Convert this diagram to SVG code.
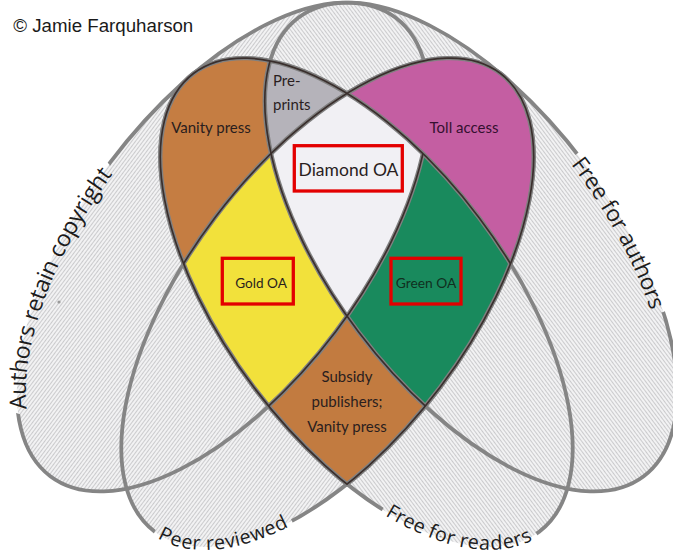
<svg xmlns="http://www.w3.org/2000/svg" xmlns:xlink="http://www.w3.org/1999/xlink" width="673" height="558" viewBox="0 0 673 558">
<style>
  .rim { fill: none; stroke: #858585; stroke-width: 3.8; }
  .halo { fill: none; stroke: #808080; stroke-width: 4.4; }
  .edge { fill: none; stroke: #3a2f2d; stroke-width: 1.7; }
  .rl { font-family: Lato, "Open Sans", sans-serif; font-size: 15px; fill: #2a1e1e; text-anchor: middle; }
  .set-label { font-family: "Open Sans", Lato, sans-serif; fill: #1c1c1c; dominant-baseline: central; text-anchor: middle; }
  .hl { fill: none; stroke: #e30000; stroke-width: 3.3; }
</style>
<defs>
  <!-- the four sets -->
  <ellipse id="eA" cx="223" cy="247" rx="287" ry="141" transform="rotate(-53 223 247)"/>
  <ellipse id="eF" cx="471" cy="247" rx="287" ry="141" transform="rotate(53 471 247)"/>
  <ellipse id="eP" cx="327.5" cy="302.5" rx="287" ry="141" transform="rotate(-53 327.5 302.5)"/>
  <ellipse id="eR" cx="366.5" cy="302.5" rx="287" ry="141" transform="rotate(53 366.5 302.5)"/>

  <!-- arcs carrying the set names -->
  <path id="pA" d="M20.8 428.3 A287 141 -53 0 1 129 138.7"/>
  <path id="pF" d="M562 138.7 A287 141 53 0 1 666.1 332.2"/>
  <path id="pP" d="M144.3 517.1 A287 141 -53 0 0 304.2 509"/>
  <path id="pR" d="M373.4 498.5 A287 141 53 0 0 544.6 522.2"/>

  <pattern id="hatch" patternUnits="userSpaceOnUse" width="6" height="3">
    <rect width="6" height="3" fill="#f2f2f3"/>
    <rect y="2" width="6" height="1" fill="#cbcbcd"/>
  </pattern>

  <clipPath id="cA"><use href="#eA"/></clipPath>
  <clipPath id="cF"><use href="#eF"/></clipPath>
  <clipPath id="cP"><use href="#eP"/></clipPath>
  <clipPath id="cR"><use href="#eR"/></clipPath>
  <!-- border selections -->
  <clipPath id="cRb"><use href="#eP"/><rect width="347" height="558"/></clipPath>
  <clipPath id="cPb"><use href="#eR"/><rect x="347" width="326" height="558"/></clipPath>
  <clipPath id="cPtop"><use href="#eP"/><rect width="673" height="200"/></clipPath>

  <mask id="mNotA" maskUnits="userSpaceOnUse" x="0" y="0" width="673" height="558"><rect width="673" height="558" fill="#fff"/><use href="#eA" fill="#000"/></mask>
  <mask id="mNotF" maskUnits="userSpaceOnUse" x="0" y="0" width="673" height="558"><rect width="673" height="558" fill="#fff"/><use href="#eF" fill="#000"/></mask>
  <mask id="mNotP" maskUnits="userSpaceOnUse" x="0" y="0" width="673" height="558"><rect width="673" height="558" fill="#fff"/><use href="#eP" fill="#000"/></mask>
  <mask id="mNotR" maskUnits="userSpaceOnUse" x="0" y="0" width="673" height="558"><rect width="673" height="558" fill="#fff"/><use href="#eR" fill="#000"/></mask>

  <!-- breaks in the outlines where the set names sit -->
  <mask id="gaps" maskUnits="userSpaceOnUse" x="0" y="0" width="673" height="558">
    <rect width="673" height="558" fill="#fff"/>
    <use href="#set-labels" stroke="#000" stroke-width="14" stroke-linejoin="round"/>
  </mask>
</defs>

<rect width="673" height="558" fill="#fff"/>

<text x="13.3" y="31.7" font-family="'Liberation Sans', Arial, sans-serif" font-size="18.7" fill="#1a1a1a">© Jamie Farquharson</text>

<!-- hatched ground of the union -->
<g id="ground" fill="url(#hatch)">
  <use href="#eA"/><use href="#eF"/><use href="#eP"/><use href="#eR"/>
</g>
<circle cx="59" cy="302" r="1.6" fill="#9a9a9a"/>

<!-- set outlines -->
<g id="outlines" class="rim" mask="url(#gaps)">
  <use href="#eA"/><use href="#eF"/><use href="#eP"/><use href="#eR"/>
</g>

<!-- coloured regions -->
<g id="vanity-press">
  <g clip-path="url(#cR)"><g mask="url(#mNotP)"><rect width="673" height="330" fill="#c57d42" mask="url(#mNotF)"/></g></g>
  <text class="rl" x="211" y="133">Vanity press</text>
</g>
<g id="pre-prints">
  <g clip-path="url(#cR)"><g clip-path="url(#cF)"><rect width="673" height="250" fill="#b5b3ba" mask="url(#mNotP)"/></g></g>
  <text class="rl" x="273" y="86" style="text-anchor:start">Pre-</text>
  <text class="rl" x="273" y="110" style="text-anchor:start">prints</text>
</g>
<g id="toll-access">
  <g clip-path="url(#cP)"><rect x="300" width="373" height="300" fill="#c45ea2" mask="url(#mNotR)"/></g>
  <text class="rl" x="464" y="133" style="fill:#351030">Toll access</text>
</g>
<g id="diamond-oa">
  <g clip-path="url(#cP)"><g clip-path="url(#cR)"><g clip-path="url(#cA)"><rect width="673" height="558" fill="#f1f0f4" clip-path="url(#cF)"/></g></g></g>
</g>
<g id="gold-oa">
  <g clip-path="url(#cP)"><g clip-path="url(#cR)"><g clip-path="url(#cA)"><rect width="673" height="558" fill="#f2e13b" mask="url(#mNotF)"/></g></g></g>
</g>
<g id="green-oa">
  <g clip-path="url(#cP)"><g clip-path="url(#cR)"><g clip-path="url(#cF)"><rect width="673" height="558" fill="#198a5d" mask="url(#mNotA)"/></g></g></g>
</g>
<g id="subsidy">
  <g clip-path="url(#cP)"><g clip-path="url(#cR)"><g mask="url(#mNotA)"><rect width="673" height="558" fill="#c27b40" mask="url(#mNotF)"/></g></g></g>
  <text class="rl" x="347" y="381.5">Subsidy</text>
  <text class="rl" x="347" y="406.5">publishers;</text>
  <text class="rl" x="347" y="431.5">Vanity press</text>
</g>

<!-- region borders -->
<g id="borders">
  <g class="halo">
    <use href="#eR" clip-path="url(#cRb)"/>
    <use href="#eP" clip-path="url(#cPb)"/>
    <g clip-path="url(#cP)"><use href="#eA" clip-path="url(#cR)"/></g>
    <g clip-path="url(#cR)"><use href="#eF" clip-path="url(#cPtop)"/></g>
  </g>
  <g class="edge">
    <use href="#eR" clip-path="url(#cRb)"/>
    <use href="#eP" clip-path="url(#cPb)"/>
    <g clip-path="url(#cP)"><use href="#eA" clip-path="url(#cR)"/></g>
    <g clip-path="url(#cR)"><use href="#eF" clip-path="url(#cPtop)"/></g>
  </g>
</g>

<!-- highlighted labels -->
<g id="diamond-label">
  <text class="rl" x="348.5" y="176" style="font-size:17.5px">Diamond OA</text>
  <rect class="hl" x="294.3" y="145.7" width="108" height="45.3"/>
</g>
<g id="gold-label">
  <text class="rl" x="261" y="288" style="font-size:13.6px">Gold OA</text>
  <rect class="hl" x="222.3" y="258.3" width="71" height="45.7"/>
</g>
<g id="green-label">
  <text class="rl" x="426" y="288" style="font-size:13.8px;fill:#10301f">Green OA</text>
  <rect class="hl" x="391" y="258.3" width="70" height="45.7"/>
</g>

<!-- set names along the outlines -->
<g id="set-labels" class="set-label">
  <text font-size="23"><textPath href="#pA" startOffset="47%">Authors retain copyright</textPath></text>
  <text font-size="22.5"><textPath href="#pF" startOffset="50%">Free for authors</textPath></text>
  <text font-size="19.6"><textPath href="#pP" startOffset="50%">Peer reviewed</textPath></text>
  <text font-size="19.8"><textPath href="#pR" startOffset="50%">Free for readers</textPath></text>
</g>
</svg>
